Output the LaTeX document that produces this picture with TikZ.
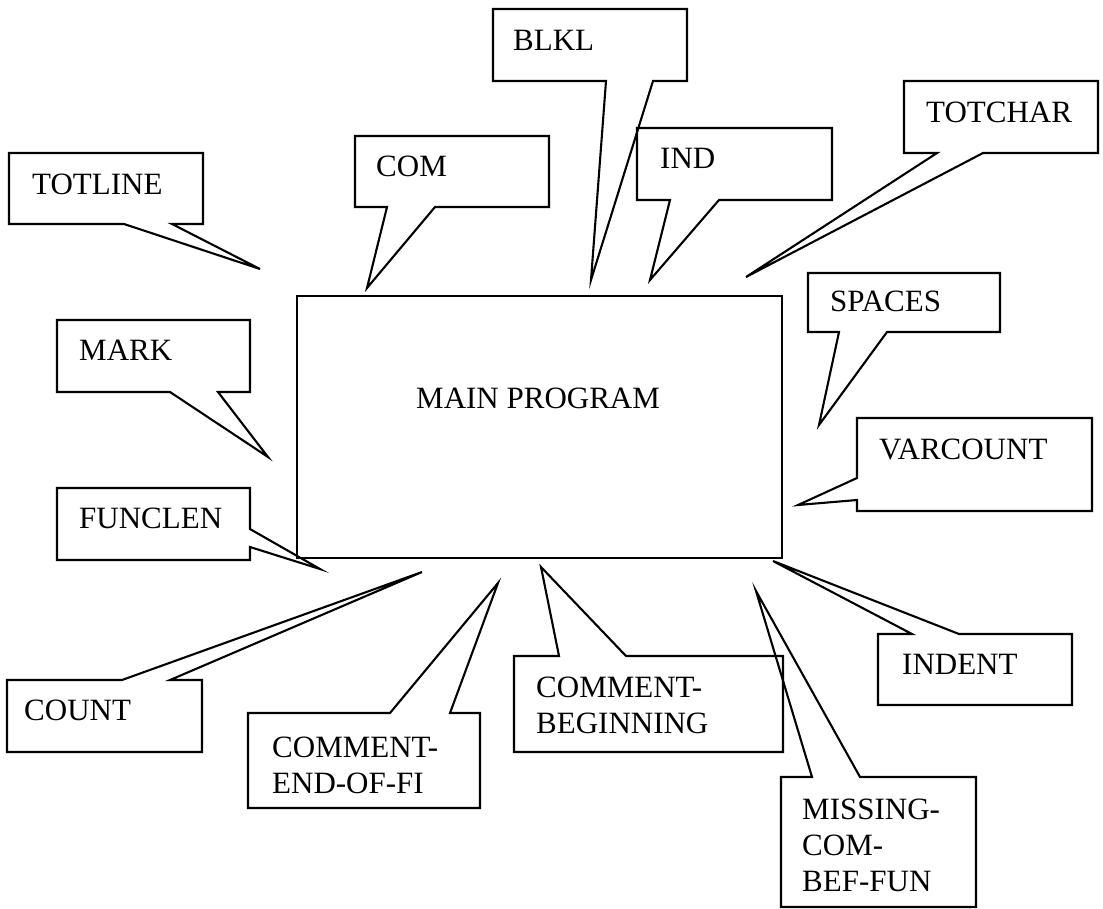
\documentclass[tikz,border=0pt]{standalone}
\usepackage{fontspec}
\setmainfont{Liberation Serif}
\newcommand{\lines}[1]{\vtop{\baselineskip=36pt\relax #1}}
\begin{document}
\begin{tikzpicture}[x=1pt,y=-1pt,
  callout/.style={draw=black,line width=2.1pt,line join=miter},
  lbl/.style={anchor=base west,inner sep=0pt,font=\fontsize{31}{36}\selectfont},
  mainbox/.style={draw=black,line width=2.1pt,minimum width=485pt,minimum height=262pt,inner sep=0pt}]
\useasboundingbox (0,0) rectangle (1103,908);
% main program
\node[mainbox] (main) at (539.5,427) {};
\node[lbl] (maintext) at (416,408) {MAIN PROGRAM};
% TOTLINE
\draw[callout] (9,153) -- (203,153) -- (203,224) -- (172,224) -- (260,269) -- (124,224) -- (9,224) -- cycle;
\node[lbl] (totline) at (32,194) {TOTLINE};
% COM
\draw[callout] (355,136) -- (549,136) -- (549,207) -- (435,207) -- (367,288) -- (387,207) -- (355,207) -- cycle;
\node[lbl] (com) at (376,176) {COM};
% BLKL
\draw[callout] (493,9) -- (687,9) -- (687,81) -- (653,81) -- (591,280) -- (606,81) -- (493,81) -- cycle;
\node[lbl] (blkl) at (513,50) {BLKL};
% IND
\draw[callout] (637,128) -- (832,128) -- (832,200) -- (719,200) -- (650,280) -- (670,200) -- (637,200) -- cycle;
\node[lbl] (ind) at (660,168) {IND};
% TOTCHAR
\draw[callout] (904,81) -- (1098,81) -- (1098,153) -- (983,153) -- (746,277) -- (937,153) -- (904,153) -- cycle;
\node[lbl] (totchar) at (926,122) {TOTCHAR};
% SPACES
\draw[callout] (808,273) -- (1000,273) -- (1000,332) -- (887,332) -- (819,425) -- (839,332) -- (808,332) -- cycle;
\node[lbl] (spaces) at (830,311) {SPACES};
% VARCOUNT
\draw[callout] (857,418) -- (1092,418) -- (1092,511) -- (857,511) -- (857,500) -- (798,505) -- (857,478) -- cycle;
\node[lbl] (varcount) at (879,459) {VARCOUNT};
% MARK
\draw[callout] (57,320) -- (250,320) -- (250,392) -- (218,392) -- (268,457) -- (170,392) -- (57,392) -- cycle;
\node[lbl] (mark) at (79,360) {MARK};
% FUNCLEN
\draw[callout] (57,488) -- (250,488) -- (250,529) -- (320,569) -- (250,547) -- (250,560) -- (57,560) -- cycle;
\node[lbl] (funclen) at (79,528) {FUNCLEN};
% COUNT
\draw[callout] (7,680) -- (122,680) -- (422,572) -- (170,680) -- (202,680) -- (202,752) -- (7,752) -- cycle;
\node[lbl] (count) at (24,720) {COUNT};
% COMMENT-END-OF-FI
\draw[callout] (248,713) -- (390,713) -- (498,583) -- (450,713) -- (480,713) -- (480,808) -- (248,808) -- cycle;
\node[lbl] (ceof) at (272,757) {\lines{\hbox{COMMENT-}\hbox{END-OF-FI}}};
% COMMENT-BEGINNING
\draw[callout] (514,656) -- (559,656) -- (541,567) -- (626,656) -- (783,656) -- (783,752) -- (514,752) -- cycle;
\node[lbl] (cbeg) at (536,697) {\lines{\hbox{COMMENT-}\hbox{BEGINNING}}};
% MISSING-COM-BEF-FUN
\draw[callout] (781,777) -- (812,777) -- (756,591) -- (860,777) -- (976,777) -- (976,907) -- (781,907) -- cycle;
\node[lbl] (missing) at (802,819) {\lines{\hbox{MISSING-}\hbox{COM-}\hbox{BEF-FUN}}};
% INDENT
\draw[callout] (878,634) -- (912,634) -- (773,561) -- (959,634) -- (1072,634) -- (1072,705) -- (878,705) -- cycle;
\node[lbl] (indent) at (902,674) {INDENT};
\end{tikzpicture}
\end{document}
